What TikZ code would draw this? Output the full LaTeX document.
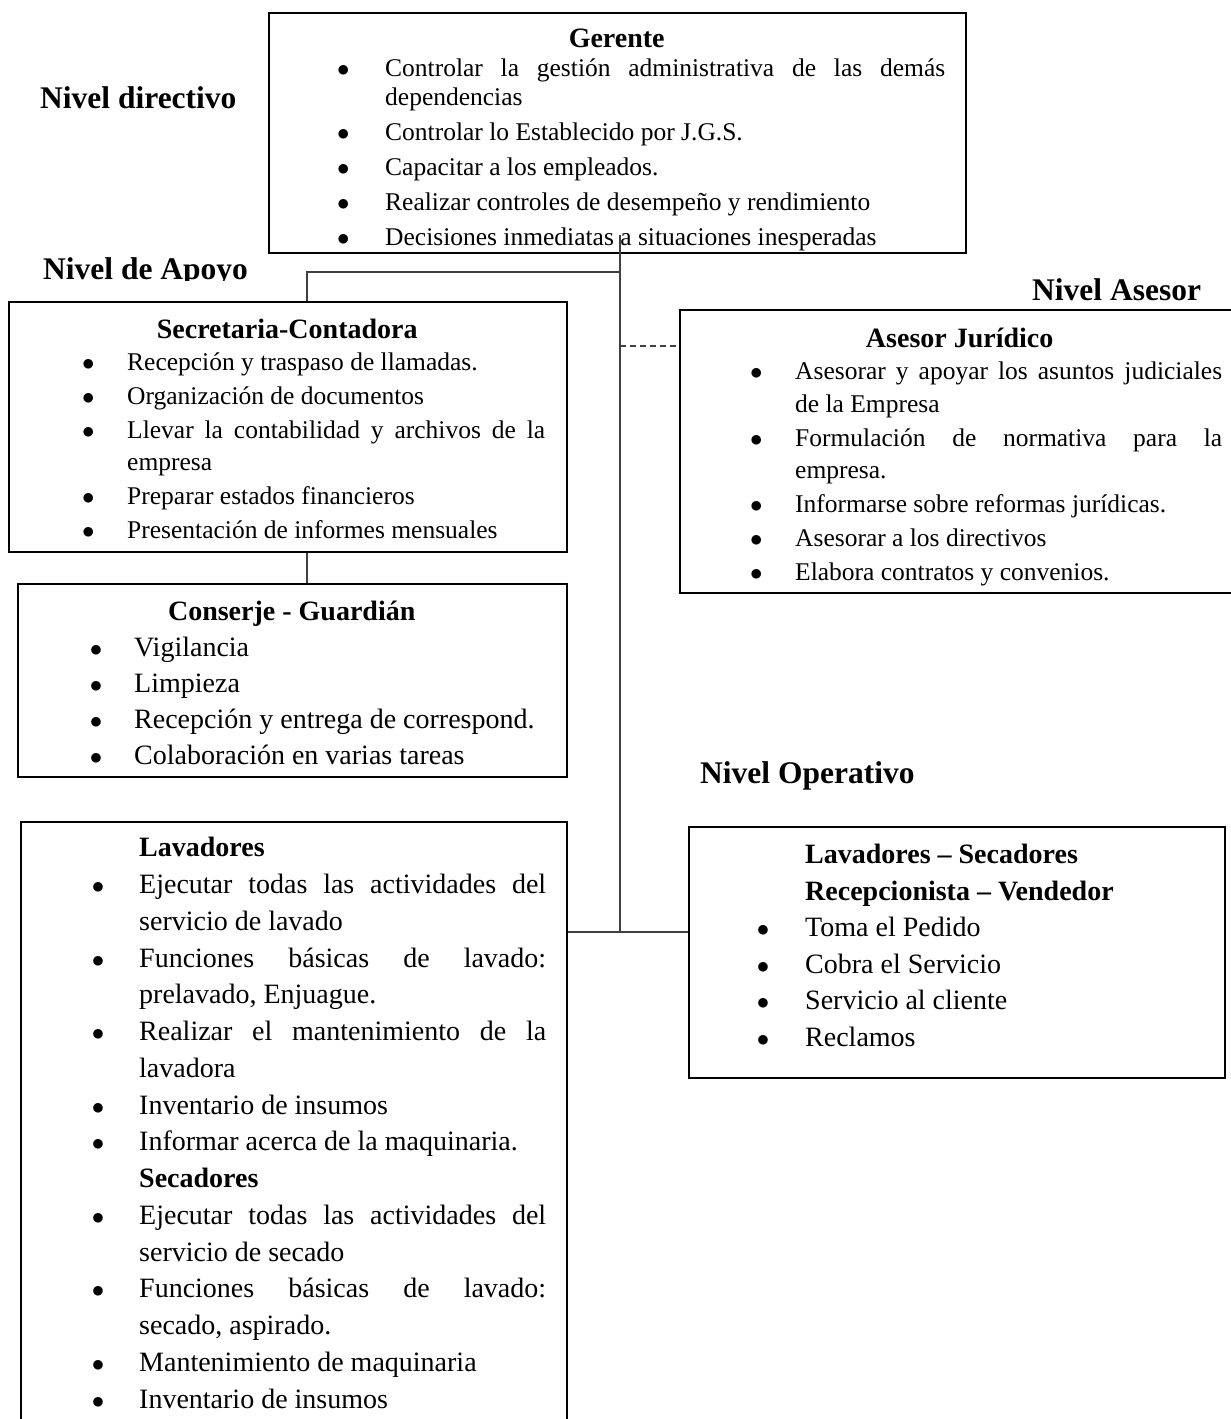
\documentclass[tikz,border=0pt]{standalone}
\usepackage{fontspec}
\setmainfont{Liberation Serif}
\hyphenpenalty=10000
\exhyphenpenalty=10000
\tolerance=9999

% lista de funciones: margen izq, margen der, separacion de la vineta, espacio entre items
\newenvironment{tareas}[4]{%
  \begin{list}{$\bullet$}{%
    \setlength{\leftmargin}{#1}\setlength{\rightmargin}{#2}%
    \setlength{\labelsep}{#3}\setlength{\labelwidth}{20pt}%
    \setlength{\itemsep}{#4}\setlength{\parsep}{0pt}%
    \setlength{\topsep}{0pt}\setlength{\partopsep}{0pt}}}%
  {\end{list}}
\newcommand{\cargo}[1]{{\centering\fontsize{28}{30}\selectfont\bfseries #1\par}}

\begin{document}
\begin{tikzpicture}[x=1pt, y=-1pt,
    caja/.style={draw, line width=2pt, anchor=north west, inner sep=0pt},
    texto/.style={anchor=base west, inner sep=0pt, align=justify, text width=#1},
    linea/.style={draw=black!75, line width=1.4pt},
    nivel/.style={anchor=base west, inner sep=0pt, font=\fontsize{31.5}{36}\selectfont\bfseries}
]
\useasboundingbox (0,0) rectangle (1231,1419);

% niveles
\node[nivel] (ndirectivo) at (40,108) {Nivel directivo};
\begin{scope}
  \clip (0,240) rectangle (300,280);
  \node[nivel] (napoyo) at (43,279) {Nivel de Apoyo};
\end{scope}
\node[nivel] (nasesor) at (1032,300) {Nivel Asesor};
\node[nivel] (noperativo) at (700,783) {Nivel Operativo};

% cajas
\node[caja, minimum width=697pt, minimum height=240pt] (gerente) at (268,12) {};
\node[caja, minimum width=558pt, minimum height=250pt] (secretaria) at (8,301) {};
\node[caja, minimum width=549pt, minimum height=193pt] (conserje) at (17,583) {};
\node[caja, minimum width=561pt, minimum height=283pt] (asesor) at (679,309) {};
\node[caja, minimum width=546pt, minimum height=620pt] (lavadores) at (20,821) {};
\node[caja, minimum width=536pt, minimum height=251pt] (operativo) at (688,826) {};

% textos
\begin{scope}
  \clip (gerente.north west) rectangle (gerente.south east);
  \node[texto=697pt, font=\fontsize{25.5}{29}\selectfont] (gerentetxt) at ([yshift=-35pt]gerente.north west) {
    \cargo{Gerente}
    \begin{tareas}{117pt}{20pt}{35.6pt}{6pt}
    \item Controlar la gestión administrativa de las demás \linebreak dependencias
    \item Controlar lo Establecido por J.G.S.
    \item Capacitar a los empleados.
    \item Realizar controles de desempeño y rendimiento
    \item Decisiones inmediatas a situaciones inesperadas
    \end{tareas}};
\end{scope}

\node[texto=558pt, font=\fontsize{25.5}{32}\selectfont] (secretariatxt) at ([yshift=-37pt]secretaria.north west) {
  \cargo{Secretaria-Contadora}
  \begin{tareas}{119pt}{21pt}{32.6pt}{2pt}
  \item Recepción y traspaso de llamadas.
  \item Organización de documentos
  \item Llevar la contabilidad y archivos de la \linebreak empresa
  \item Preparar estados financieros
  \item Presentación de informes mensuales
  \end{tareas}};

\node[texto=549pt, font=\fontsize{28}{36}\selectfont] (conserjetxt) at ([yshift=-37pt]conserje.north west) {
  \cargo{Conserje - Guardián}
  \begin{tareas}{117pt}{20pt}{32pt}{0pt}
  \item Vigilancia
  \item Limpieza
  \item Recepción y entrega de correspond.
  \item Colaboración en varias tareas
  \end{tareas}};

\node[texto=561pt, font=\fontsize{25.5}{32.5}\selectfont] (asesortxt) at ([yshift=-38pt]asesor.north west) {
  \cargo{Asesor Jurídico}
  \begin{tareas}{116pt}{18pt}{32.6pt}{1.5pt}
  \item Asesorar y apoyar los asuntos judiciales \linebreak de la Empresa
  \item Formulación de normativa para la \linebreak empresa.
  \item Informarse sobre reformas jurídicas.
  \item Asesorar a los directivos
  \item Elabora contratos y convenios.
  \end{tareas}};

\node[texto=546pt, font=\fontsize{28}{36.75}\selectfont] (lavadorestxt) at ([yshift=1pt]lavadores.north west) {
  \begin{tareas}{119pt}{20pt}{35pt}{0pt}
  \item[] \textbf{Lavadores}
  \item Ejecutar todas las actividades del \linebreak servicio de lavado
  \item Funciones básicas de lavado: \linebreak prelavado, Enjuague.
  \item Realizar el mantenimiento de la \linebreak lavadora
  \item Inventario de insumos
  \item Informar acerca de la maquinaria.
  \item[] \textbf{Secadores}
  \item Ejecutar todas las actividades del \linebreak servicio de secado
  \item Funciones básicas de lavado: \linebreak secado, aspirado.
  \item Mantenimiento de maquinaria
  \item Inventario de insumos
  \end{tareas}};

\node[texto=536pt, font=\fontsize{28}{36.5}\selectfont] (operativotxt) at ([yshift=-1pt]operativo.north west) {
  \begin{tareas}{117pt}{20pt}{36pt}{0pt}
  \item[] \textbf{Lavadores – Secadores}
  \item[] \textbf{Recepcionista – Vendedor}
  \item Toma el Pedido
  \item Cobra el Servicio
  \item Servicio al cliente
  \item Reclamos
  \end{tareas}};

% conectores
\coordinate (nudo) at (620,932);
\coordinate (apoyo) at (307,272);
\coordinate (asesoria) at (620,346);
\draw[linea] ([yshift=19pt]gerente.south -| nudo) -- (nudo);
\draw[linea] (lavadores.east |- nudo) -- (operativo.west |- nudo);
\draw[linea] (nudo |- apoyo) -- (apoyo) -- (secretaria.north -| apoyo);
\draw[linea] (secretaria.south -| apoyo) -- (conserje.north -| apoyo);
\draw[linea, dash pattern=on 6pt off 4pt] (asesoria) -- (asesor.west |- asesoria);
\end{tikzpicture}
\end{document}
